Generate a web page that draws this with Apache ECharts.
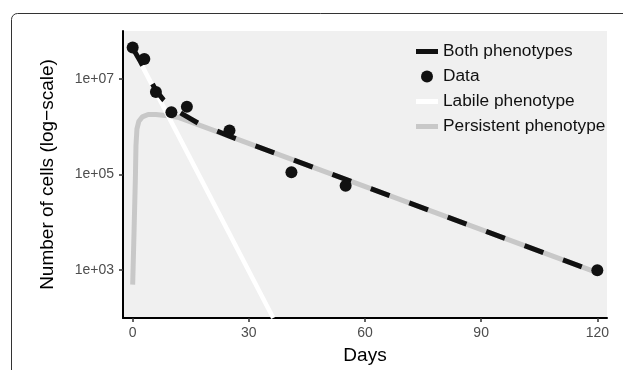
<!DOCTYPE html>
<html>
<head>
<meta charset="utf-8">
<script src="https://cdn.jsdelivr.net/npm/echarts@6/dist/echarts.min.js"></script>
<style>
  html, body { margin: 0; padding: 0; background: #fff; }
  #main { width: 623px; height: 370px; }
</style>
</head>
<body>
<div id="main"></div>
<script>
// observed counts
var dataDays = [0, 3, 6, 10, 14, 25, 41, 55, 120];
var dataCells = [4.5e7, 2.6e7, 5.3e6, 2.0e6, 2.6e6, 8.3e5, 1.12e5, 5.8e4, 1.0e3];

// model curves
var bothDays = [0, 2, 4, 6, 8, 10, 13, 17, 25, 120];
var bothCells = [4.4e7, 2.3e7, 1.15e7, 5.75e6, 3.6e6, 2.6e6, 1.8e6, 1.17e6, 6.3e5, 890];

var labileDays = [0, 36.3];
var labileCells = [4.5e7, 100];

var persDays = [0, 0.35, 0.7, 0.85, 1.1, 1.6, 2.5, 4, 6, 9, 12, 120];
var persCells = [500, 6.3e3, 8.5e4, 4.0e5, 9.0e5, 1.3e6, 1.6e6, 1.8e6, 1.8e6, 1.7e6, 1.55e6, 890];

var xTicks = [0, 30, 60, 90, 120];
var yTicks = [1e3, 1e5, 1e7];
var yTickLabels = ['1e+03', '1e+05', '1e+07'];

function pairs(xs, ys) {
    return xs.map(function (x, i) { return [x, ys[i]]; });
}

var myChart = echarts.init(document.getElementById('main'));

var option = {
    animation: false,
    textStyle: { fontFamily: 'Liberation Sans' },
    graphic: [{
        type: 'rect',
        shape: { x: 11.5, y: 13.5, width: 800, height: 600, r: 6 },
        style: { fill: 'none', stroke: '#333', lineWidth: 1 },
        silent: true
    }],
    grid: {
        left: 123, right: 16, top: 31, bottom: 48,
        show: true, backgroundColor: '#f0f0f0', borderWidth: 0
    },
    legend: {
        orient: 'vertical',
        left: 411, top: 38,
        itemWidth: 22, itemHeight: 12, itemGap: 8,
        selectedMode: false,
        textStyle: { fontSize: 17.3, color: '#111' },
        data: [
            { name: 'Both phenotypes', icon: 'path://M0,0H22V5H0Z', itemStyle: { color: '#111' } },
            { name: 'Data', icon: 'circle', itemStyle: { color: '#111' } },
            { name: 'Labile phenotype', icon: 'path://M0,0H22V5H0Z', itemStyle: { color: '#fff' } },
            { name: 'Persistent phenotype', icon: 'path://M0,0H22V5H0Z', itemStyle: { color: '#c8c8c8' } }
        ]
    },
    xAxis: {
        type: 'value',
        min: -2.5, max: 122.5,
        name: 'Days', nameLocation: 'middle', nameGap: 28,
        nameTextStyle: { fontSize: 19, color: '#000' },
        splitLine: { show: false },
        axisLine: { show: true, onZero: false, lineStyle: { color: '#000', width: 2 } },
        axisTick: { show: true, length: 4, customValues: xTicks, lineStyle: { color: '#333', width: 1.5 } },
        axisLabel: { customValues: xTicks, margin: 8, fontSize: 14, color: '#4d4d4d' }
    },
    yAxis: {
        type: 'log', logBase: 10,
        min: 100, max: 1e8,
        name: 'Number of cells (log\u2212scale)', nameLocation: 'middle', nameGap: 66,
        nameTextStyle: { fontSize: 19, color: '#000' },
        splitLine: { show: false },
        axisLine: { show: true, onZero: false, lineStyle: { color: '#000', width: 2 } },
        axisTick: { show: true, length: 4, customValues: yTicks, lineStyle: { color: '#333', width: 1.5 } },
        axisLabel: {
            customValues: yTicks, margin: 9, fontSize: 14, color: '#4d4d4d',
            formatter: function (v) { return yTickLabels[yTicks.indexOf(v)] || ''; }
        }
    },
    series: [
        {
            name: 'Persistent phenotype', type: 'line',
            data: pairs(persDays, persCells),
            showSymbol: false, symbol: 'none',
            itemStyle: { color: '#c8c8c8' },
            lineStyle: { color: '#c8c8c8', width: 5, cap: 'butt' },
            z: 2
        },
        {
            name: 'Labile phenotype', type: 'line',
            data: pairs(labileDays, labileCells),
            showSymbol: false, symbol: 'none',
            itemStyle: { color: '#fff' },
            lineStyle: { color: '#fff', width: 4.5, cap: 'butt' },
            z: 3
        },
        {
            name: 'Both phenotypes', type: 'line',
            data: pairs(bothDays, bothCells),
            showSymbol: false, symbol: 'none',
            itemStyle: { color: '#111' },
            lineStyle: { color: '#111', width: 5, type: [20, 21], cap: 'butt' },
            z: 4
        },
        {
            name: 'Data', type: 'scatter',
            data: pairs(dataDays, dataCells),
            symbol: 'circle', symbolSize: 12,
            itemStyle: { color: '#111', opacity: 1 },
            z: 5
        }
    ]
};

myChart.setOption(option);
</script>
</body>
</html>
